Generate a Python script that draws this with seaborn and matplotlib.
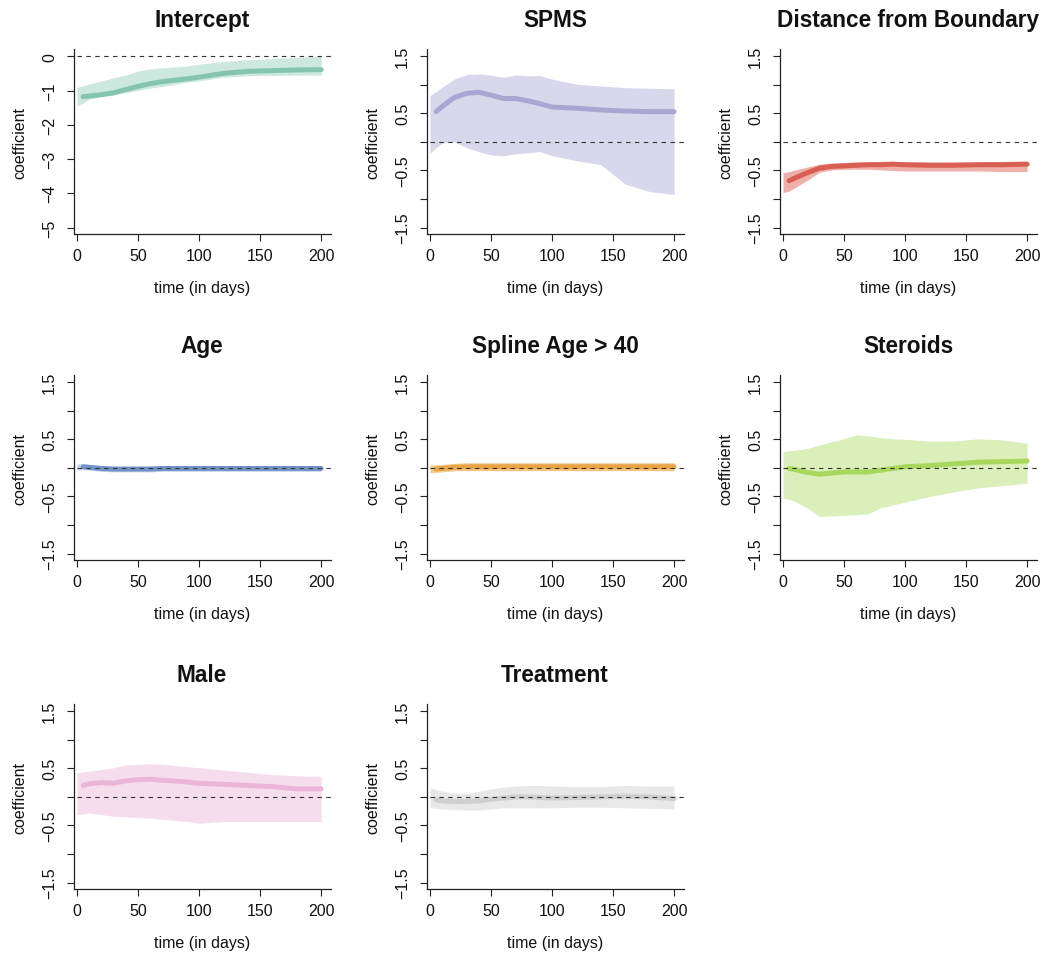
import numpy as np
import pandas as pd
import matplotlib
matplotlib.use("Agg")
import matplotlib.pyplot as plt
import seaborn as sns

# time grid (days); the estimate starts at day 5, the band at day 0
days = [0, 5, 10, 20, 30, 40, 50, 60, 70, 80, 90, 100, 120, 140, 160, 180, 200]
nan = np.nan

titles = ["Intercept", "SPMS", "Distance from Boundary", "Age",
          "Spline Age > 40", "Steroids", "Male", "Treatment"]

intercept_est = [nan, -1.18, -1.16, -1.12, -1.07, -0.97, -0.88, -0.80, -0.74, -0.70, -0.66, -0.61, -0.50, -0.44, -0.42, -0.40, -0.39]
intercept_hi = [-0.91, -0.86, -0.81, -0.72, -0.63, -0.55, -0.43, -0.37, -0.34, -0.31, -0.29, -0.23, -0.15, -0.10, -0.07, -0.03, 0.00]
intercept_lo = [-1.46, -1.36, -1.25, -1.18, -1.12, -1.06, -1.00, -0.93, -0.88, -0.82, -0.76, -0.72, -0.61, -0.57, -0.56, -0.55, -0.55]

spms_est = [nan, 0.53, 0.62, 0.78, 0.85, 0.87, 0.82, 0.76, 0.76, 0.72, 0.67, 0.61, 0.59, 0.56, 0.54, 0.53, 0.53]
spms_hi = [0.81, 0.88, 0.96, 1.10, 1.18, 1.19, 1.17, 1.13, 1.17, 1.16, 1.16, 1.10, 1.01, 0.98, 0.95, 0.94, 0.93]
spms_lo = [-0.20, -0.10, -0.02, 0.00, -0.10, -0.17, -0.23, -0.24, -0.21, -0.19, -0.17, -0.24, -0.33, -0.40, -0.74, -0.87, -0.92]

dist_est = [nan, -0.68, -0.63, -0.54, -0.46, -0.43, -0.42, -0.41, -0.40, -0.40, -0.39, -0.40, -0.41, -0.41, -0.40, -0.40, -0.39]
dist_hi = [-0.54, -0.52, -0.49, -0.44, -0.39, -0.37, -0.36, -0.35, -0.35, -0.34, -0.34, -0.35, -0.35, -0.35, -0.35, -0.34, -0.34]
dist_lo = [-0.89, -0.86, -0.80, -0.67, -0.53, -0.49, -0.48, -0.48, -0.48, -0.49, -0.50, -0.51, -0.51, -0.51, -0.51, -0.52, -0.52]

age_est = [nan, 0.02, 0.01, -0.01, -0.02, -0.02, -0.02, -0.02, -0.01, -0.01, -0.01, -0.01, -0.01, -0.01, -0.01, -0.01, -0.01]
age_hi = [0.07, 0.07, 0.06, 0.04, 0.03, 0.03, 0.03, 0.03, 0.04, 0.04, 0.04, 0.04, 0.04, 0.04, 0.04, 0.04, 0.04]
age_lo = [-0.03, -0.03, -0.04, -0.06, -0.07, -0.07, -0.07, -0.07, -0.06, -0.06, -0.06, -0.06, -0.06, -0.06, -0.06, -0.06, -0.06]

spline_est = [nan, -0.02, -0.01, 0.01, 0.02, 0.02, 0.02, 0.02, 0.02, 0.02, 0.02, 0.02, 0.02, 0.02, 0.02, 0.02, 0.02]
spline_hi = [0.05, 0.05, 0.06, 0.08, 0.09, 0.09, 0.09, 0.09, 0.09, 0.09, 0.09, 0.09, 0.09, 0.09, 0.09, 0.09, 0.09]
spline_lo = [-0.08, -0.08, -0.07, -0.05, -0.05, -0.05, -0.05, -0.05, -0.05, -0.05, -0.05, -0.05, -0.05, -0.05, -0.05, -0.05, -0.05]

ster_est = [nan, -0.01, -0.03, -0.08, -0.11, -0.09, -0.07, -0.07, -0.07, -0.04, -0.01, 0.02, 0.04, 0.07, 0.10, 0.11, 0.12]
ster_hi = [0.28, 0.30, 0.31, 0.34, 0.40, 0.46, 0.51, 0.58, 0.56, 0.53, 0.51, 0.50, 0.47, 0.47, 0.51, 0.49, 0.43]
ster_lo = [-0.53, -0.55, -0.59, -0.70, -0.85, -0.84, -0.83, -0.82, -0.80, -0.70, -0.65, -0.60, -0.50, -0.42, -0.35, -0.31, -0.27]

male_est = [nan, 0.20, 0.23, 0.25, 0.24, 0.28, 0.30, 0.31, 0.29, 0.28, 0.26, 0.24, 0.22, 0.20, 0.18, 0.14, 0.14]
male_hi = [0.42, 0.44, 0.45, 0.48, 0.51, 0.56, 0.57, 0.58, 0.57, 0.55, 0.53, 0.51, 0.47, 0.43, 0.39, 0.37, 0.36]
male_lo = [-0.31, -0.30, -0.28, -0.31, -0.34, -0.35, -0.36, -0.37, -0.39, -0.41, -0.43, -0.46, -0.43, -0.43, -0.43, -0.43, -0.43]

treat_est = [nan, -0.05, -0.07, -0.08, -0.08, -0.07, -0.04, -0.02, 0.00, 0.00, -0.01, -0.02, -0.01, 0.00, 0.01, 0.00, -0.03]
treat_hi = [0.16, 0.13, 0.10, 0.07, 0.06, 0.10, 0.14, 0.17, 0.19, 0.20, 0.20, 0.19, 0.18, 0.18, 0.20, 0.19, 0.19]
treat_lo = [-0.19, -0.20, -0.21, -0.22, -0.23, -0.23, -0.21, -0.19, -0.19, -0.19, -0.19, -0.19, -0.18, -0.18, -0.19, -0.20, -0.21]

estimates = [intercept_est, spms_est, dist_est, age_est, spline_est, ster_est, male_est, treat_est]
uppers = [intercept_hi, spms_hi, dist_hi, age_hi, spline_hi, ster_hi, male_hi, treat_hi]
lowers = [intercept_lo, spms_lo, dist_lo, age_lo, spline_lo, ster_lo, male_lo, treat_lo]

line_colors = ["#85c5b0", "#aaa6d3", "#da5f53", "#7393c8", "#e8a445", "#a9d65c", "#ebb5d8", "#cfcfcf"]
band_colors = ["#cde9df", "#d9d7eb", "#efb0aa", "#c6d5eb", "#f6cb8e", "#daefb9", "#f5ddee", "#e8e8e8"]

sns.set_style("ticks")
plt.rcParams["font.family"] = ["Liberation Sans", "DejaVu Sans"]

W, H = 1041, 954
fig = plt.figure(figsize=(W / 100, H / 100), dpi=100)

col_left = [73.6, 426.6, 779.6]
row_top = [50.4, 376.4, 705.4]
pw, ph = 257.0, 185.0

for i, title in enumerate(titles):
    r, c = divmod(i, 3)
    ax = fig.add_axes([col_left[c] / W, 1 - (row_top[r] + ph) / H, pw / W, ph / H])

    df = pd.DataFrame({"time": days, "est": estimates[i],
                       "lo": lowers[i], "hi": uppers[i]})
    ax.fill_between(df["time"], df["lo"], df["hi"], color=band_colors[i], linewidth=0)
    sns.lineplot(data=df.dropna(), x="time", y="est", ax=ax, color=line_colors[i],
                 linewidth=3.6, solid_capstyle="round")
    ax.hlines(0, 0, 212, colors="#333333", linestyles=(0, (4, 4)), linewidth=0.8)

    ax.set_xlim(-2.8, 207.8)
    ax.set_xticks([0, 50, 100, 150, 200])
    if i == 0:
        ax.set_ylim(-5.2, 0.2)
        ax.set_yticks([-5, -4, -3, -2, -1, 0])
        ax.set_yticklabels(["\u22125", "\u22124", "\u22123", "\u22122", "\u22121", "0"])
    else:
        ax.set_ylim(-1.62, 1.62)
        ax.set_yticks([-1.5, -1.0, -0.5, 0, 0.5, 1.0, 1.5])
        ax.set_yticklabels(["\u22121.5", "", "\u22120.5", "", "0.5", "", "1.5"])

    sns.despine(ax=ax)
    for sp in ["left", "bottom"]:
        ax.spines[sp].set_linewidth(0.9)
        ax.spines[sp].set_color("#222222")
    ax.tick_params(axis="both", direction="out", length=5, width=0.8,
                   color="#222222", labelsize=11.5, labelcolor="#111111")
    ax.tick_params(axis="x", pad=5)
    ax.tick_params(axis="y", pad=7)
    for lab in ax.get_yticklabels():
        lab.set_rotation(90)
        lab.set_va("center")
        lab.set_ha("right")

    ax.set_xlabel("time (in days)", fontsize=11.5, color="#111111")
    ax.set_ylabel("coefficient", fontsize=11.5, color="#111111")
    ax.xaxis.set_label_coords(0.5, -0.286)
    ax.xaxis.label.set_va("center")
    ax.yaxis.set_label_coords(-0.209, 0.5)
    ax.yaxis.label.set_va("center")

    ax.text(0.5, 1 + 30 / ph, title, transform=ax.transAxes, ha="center",
            va="center", fontsize=16.3, fontweight="bold", color="#111111")

fig.savefig("out.png", dpi=100)
